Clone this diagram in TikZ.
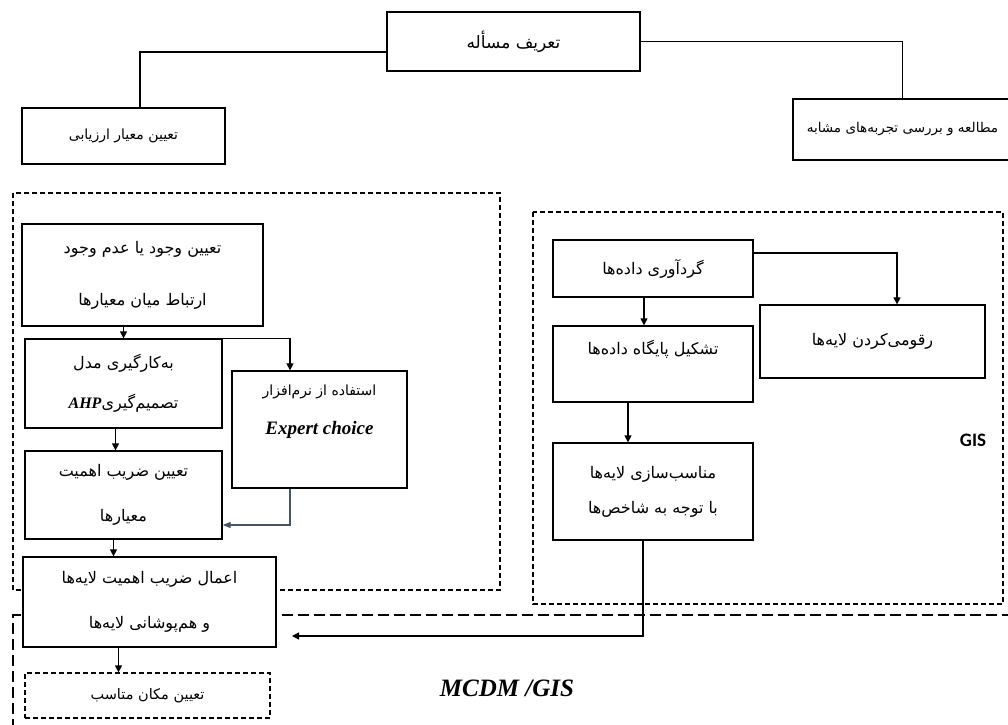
\documentclass[tikz,border=0pt]{standalone}
\usepackage{fontspec}
\usetikzlibrary{arrows.meta}
\newfontfamily\fafont[Script=Arabic]{DejaVu Sans}
\newfontfamily\latfont{Liberation Serif}
\newfontfamily\gisfont{Carlito}
\TeXXeTstate=1
\newcommand{\fa}[1]{{\fafont\beginR #1\endR}}
\definecolor{slate}{RGB}{68,84,106}
\tikzset{
  % --- boxes -----------------------------------------------------------------
  box/.style={draw,line width=1.3pt,inner sep=0pt,align=center,fill=white,
              font=\fontsize{16}{19}\selectfont},
  dbox/.style={box,line width=1.2pt,dash pattern=on 5pt off 3pt},
  % --- frames ----------------------------------------------------------------
  frame/.style={line width=1.2pt,dash pattern=on 5pt off 3pt},
  wideframe/.style={line width=1.5pt,dash pattern=on 11pt off 5pt},
  % --- connectors ------------------------------------------------------------
  link/.style={line width=1.2pt},
  ar/.style={link,-{Triangle[length=7pt,width=7pt]}},
  arb/.style={link,draw=slate,-{Triangle[length=8pt,width=6pt]}},
}
\begin{document}
\begin{tikzpicture}[x=1pt,y=-1pt]
  \useasboundingbox (0,0) rectangle (1008,724);
  % frames
  \draw[frame] (13,193) rectangle (500,590);
  \draw[frame] (533,212) rectangle (1003,604);
  \draw[wideframe] (13,730) -- (13,615) -- (1015,615);
  % top row
  \node[box,minimum width=253pt,minimum height=59pt,font=\fontsize{17}{20}\selectfont] (prob) at (513.5,41.5) {\fa{تعریف مسأله}};
  \node[box,minimum width=203pt,minimum height=56pt,font=\fontsize{14}{17}\selectfont] (eval) at (123.5,136) {\fa{تعیین معیار ارزیابی}};
  \node[box,minimum width=219pt,minimum height=61pt,font=\fontsize{13.5}{16}\selectfont] (study) at (902.5,129.5) {\fa{مطالعه و بررسی تجربه‌های مشابه}};
  \draw[link] ([yshift=-10.5pt]prob.west) -| ([xshift=16.5pt]eval.north);
  \draw[link] (prob.east) -| (study.north);
  % MCDM chain
  \node[box,minimum width=241pt,minimum height=102pt] (rel) at (142.5,275) {\fa{تعیین وجود یا عدم وجود}\\[33pt]\fa{ارتباط میان معیارها}};
  \node[box,minimum width=197pt,minimum height=89pt] (ahp) at (123.5,383.5) {\fa{به‌کارگیری مدل}\\[21pt]\fa{تصمیم‌گیری\beginL{\latfont\bfseries\itshape\fontsize{16}{19}\selectfont AHP}\endL}};
  \node[box,minimum width=175pt,minimum height=117pt,text depth=40pt,font=\fontsize{14}{17}\selectfont] (soft) at (319.5,429.5) {\fa{استفاده از نرم‌افزار}\\[22pt]{\latfont\bfseries\itshape\fontsize{19}{22}\selectfont Expert choice}};
  \node[box,minimum width=197pt,minimum height=88pt] (wgt) at (123.5,495) {\fa{تعیین ضریب اهمیت}\\[26pt]\fa{معیارها}};
  \node[box,minimum width=253pt,minimum height=90pt] (ovl) at (149.5,602) {\fa{اعمال ضریب اهمیت لایه‌ها}\\[26pt]\fa{و هم‌پوشانی لایه‌ها}};
  \node[dbox,minimum width=245pt,minimum height=45pt,font=\fontsize{14.5}{17}\selectfont] (site) at (147.5,695.5) {\fa{تعیین مکان متاسب}};
  \draw[ar] (rel.south -| ahp) -- (ahp.north);
  \draw[ar] ([xshift=-8pt]ahp.south) -- ([xshift=-8pt]wgt.north);
  \draw[ar] ([xshift=-10pt]wgt.south) -- ([xshift=-10pt]wgt.south |- ovl.north);
  \draw[ar] ([xshift=-31pt]ovl.south) -- ([xshift=-31pt]ovl.south |- site.north);
  \draw[ar] (ahp.north east) -| ([xshift=-29.5pt]soft.north);
  \draw[arb] ([xshift=-29.5pt]soft.south) |- ([yshift=-30pt]wgt.east);
  % GIS chain
  \node[box,minimum width=200pt,minimum height=57pt] (coll) at (653,268.5) {\fa{گردآوری داده‌ها}};
  \node[box,minimum width=225pt,minimum height=73pt] (digi) at (872.5,341.5) {\fa{رقومی‌کردن لایه‌ها}};
  \node[box,minimum width=200pt,minimum height=76pt,text depth=33pt] (db) at (653,364) {\fa{تشکیل پایگاه داده‌ها}};
  \node[box,minimum width=200pt,minimum height=97pt] (fit) at (653,491.5) {\fa{مناسب‌سازی لایه‌ها}\\[16pt]\fa{با توجه به شاخص‌ها}};
  \draw[ar] ([xshift=-9pt]coll.south) -- ([xshift=-9pt]db.north);
  \draw[ar] ([xshift=-25pt]db.south) -- ([xshift=-25pt]fit.north);
  \draw[ar] ([yshift=15.5pt]coll.east) -| ([xshift=24.5pt]digi.north);
  \coordinate (join) at (292,636);
  \draw[ar] ([xshift=-10pt]fit.south) |- (join);
  % labels
  \node[font=\gisfont\bfseries\fontsize{19}{22}\selectfont] (gis) at (973,440) {GIS};
  \node[font=\latfont\bfseries\itshape\fontsize{25}{29}\selectfont] (mcdm) at (507,688) {MCDM /GIS};
\end{tikzpicture}
\end{document}
